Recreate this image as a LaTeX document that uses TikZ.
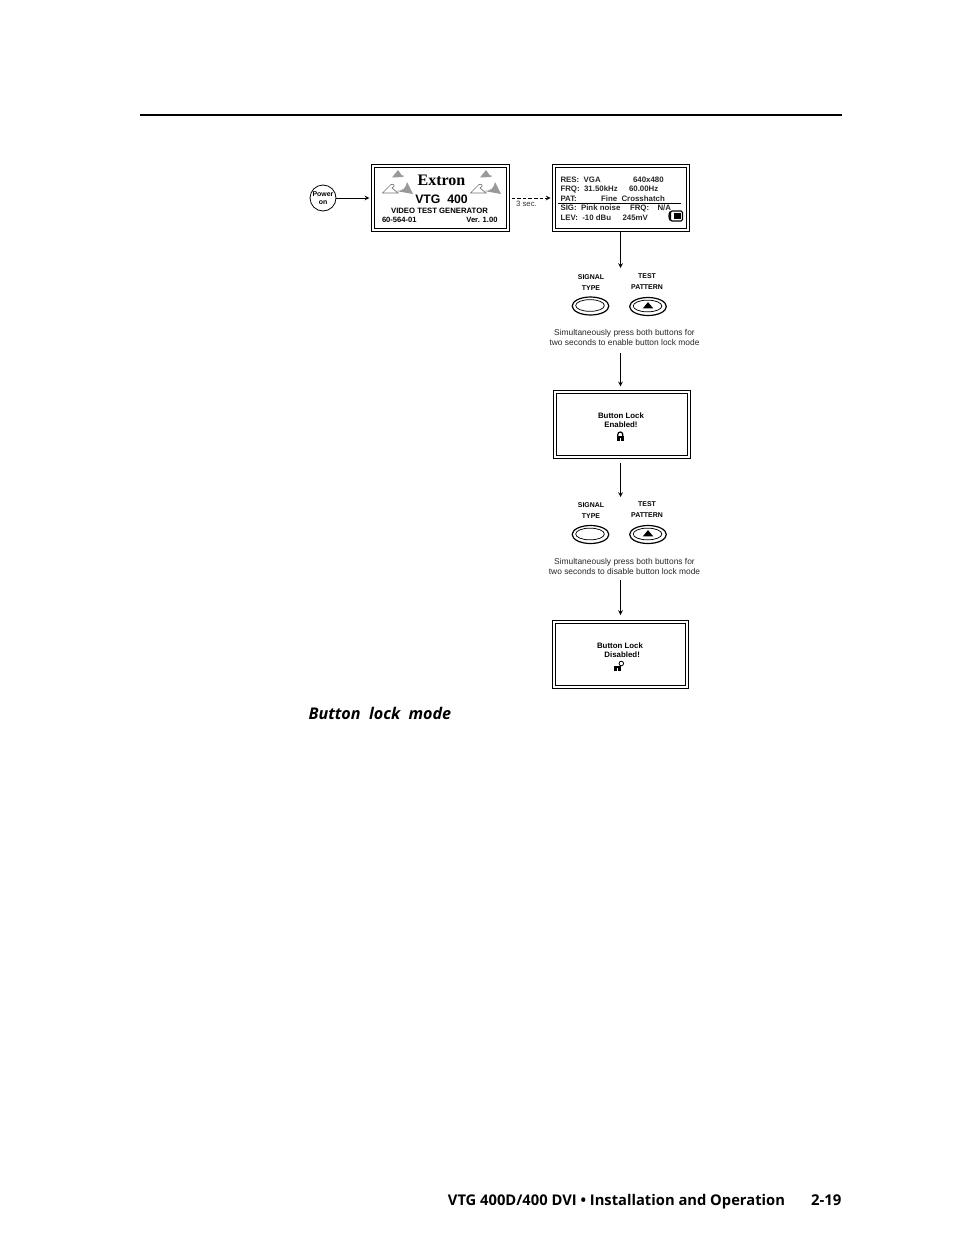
\documentclass[tikz,border=0pt]{standalone}
\usepackage{fontspec}
\setmainfont{Liberation Sans}
\newfontfamily\pagefont{Open Sans}
\newfontfamily\logofont{Liberation Serif}
\usetikzlibrary{shapes.geometric}
\tikzset{every picture/.style={line width=0.75pt}}
\tikzset{
	framebox/.style={draw,line width=0.7pt,minimum width=103pt,minimum height=50.5pt,inner sep=0pt},
	frameinner/.style={draw,line width=0.6pt,minimum width=98.5pt,minimum height=46pt,inner sep=0pt},
	btnouter/.style={draw,ellipse,line width=0.9pt,minimum width=27.5pt,minimum height=13.5pt,inner sep=0pt},
	btninner/.style={draw,ellipse,line width=0.55pt,minimum width=21.5pt,minimum height=8.8pt,inner sep=0pt},
	btnlabel/.style={font=\fontsize{5.2}{8.2}\selectfont\bfseries,align=center,inner sep=0pt},
	btnarrow/.style={fill,isosceles triangle,isosceles triangle apex angle=80,shape border rotate=90,minimum height=4.5pt,minimum width=8pt,inner sep=0pt},
	hinttext/.style={font=\fontsize{6.3}{8.2}\selectfont,align=center,inner sep=0pt,text=black!85},
	statustext/.style={font=\fontsize{5.9}{6}\selectfont\bfseries,anchor=base west,inner sep=0pt,text=black!85},
	splashtext/.style={font=\fontsize{5.7}{6}\selectfont\bfseries,inner sep=0pt},
	locktext/.style={font=\fontsize{5.9}{7}\selectfont\bfseries,align=center,inner sep=0pt},
	flowarrow/.style={-stealth,line width=0.6pt},
	logogray/.style={fill=black!40,draw=none},
	logoline/.style={draw=black!55,line width=0.5pt},
}
\begin{document}
\begin{tikzpicture}[x=0.75pt,y=0.75pt,yscale=-1,xscale=1]
		\useasboundingbox (0,0) rectangle (954,1235);
		
		%Page rule
		\draw [line width=1.5pt] (140,115) -- (842,115) ;
		
		%Power on
		\node (power) [draw,circle,line width=0.6pt,minimum size=19.5pt,inner sep=0pt,font=\fontsize{5.2}{5.8}\selectfont\bfseries,align=center] at (323,198) {Power\\on};
		
		%Start screen
		\node (splash) [framebox] at (440.5,198) {};
		\node [frameinner] at (splash) {};
		\node (extron) [font=\logofont\fontsize{12}{12}\selectfont\bfseries,inner sep=0pt] at (441.5,180.5) {Extron};
		\node (model) [font=\fontsize{9.2}{10}\selectfont\bfseries,inner sep=0pt] at (441.5,199) {VTG\ \ 400};
		\node (generator) [splashtext,font=\fontsize{5.8}{6}\selectfont\bfseries] at (439.5,211) {VIDEO TEST GENERATOR};
		\node (partno) [splashtext,anchor=west] at (381.5,219.5) {60-564-01};
		\node (version) [splashtext,anchor=east] at (498,219.5) {Ver. 1.00};
		
		%Logo left
		\fill [logogray] (398,170) -- (403,177) -- (392,177.5) -- cycle;
		\fill [logogray] (403,176) circle [radius=0.8];
		\fill [logogray] (407,182) -- (413,194) -- (396,191) .. controls (403,191) and (406,188) .. cycle;
		\draw [logoline] (382.5,193) -- (391,184.5) .. controls (394,183.5) and (396,186) .. (392,188) -- (398,193) -- cycle;
		%Logo right
		\fill [logogray] (486,170) -- (491,177) -- (480,177.5) -- cycle;
		\fill [logogray] (491,176) circle [radius=0.8];
		\fill [logogray] (495,182) -- (501,194) -- (484,191) .. controls (491,191) and (494,188) .. cycle;
		\draw [logoline] (470.5,193) -- (479,184.5) .. controls (482,183.5) and (484,186) .. (480,188) -- (486,193) -- cycle;
		
		%Status screen
		\node (status) [framebox] at (621,198) {};
		\node [frameinner] at (status) {};
		\node (res) [statustext] at (560,182) {RES:\ \ VGA};
		\node (resval) [statustext] at (632.5,182) {640x480};
		\node (frq) [statustext] at (560,191.3) {FRQ:\ \ 31.50kHz};
		\node (frqval) [statustext] at (628.5,191.3) {60.00Hz};
		\node (pat) [statustext] at (560,201) {PAT:};
		\node (patval) [statustext] at (600.5,201) {Fine\ \ Crosshatch};
		\node (sig) [statustext] at (560,210) {SIG:\ \ Pink noise};
		\node (sigfrq) [statustext] at (629.5,210) {FRQ:};
		\node (na) [statustext] at (657,210) {N/A};
		\node (lev) [statustext] at (560,220) {LEV:\ \ -10 dBu};
		\node (levval) [statustext] at (622,220) {245mV};
		\draw [line width=0.6pt] (558,203) -- (681,203) ;
		
		%Battery
		\draw [line width=0.8pt,rounded corners=1pt,fill=white] (670.5,211) rectangle (682.5,221);
		\fill (674,213) rectangle (681,219);
		\draw [line width=1pt] (670.5,211.5) .. controls (668.5,213.5) and (668.5,218.5) .. (670.5,220.5);
		
		%Buttons, first pair
		\node (signalone) [btnouter] at (590.5,306) {};
		\node [btninner] at (590,305.5) {};
		\node (testone) [btnouter] at (648,306.5) {};
		\node [btninner] at (647.5,306) {};
		\node [btnarrow] at (648,306) {};
		\node (signallabelone) [btnlabel] at (591,282.5) {SIGNAL\\TYPE};
		\node (testlabelone) [btnlabel] at (647,281.5) {TEST\\PATTERN};
		\node (hintone) [hinttext] at (624.5,337.5) {Simultaneously press both buttons for\\two seconds to enable button lock mode};
		
		%Lock enabled
		\node (enabled) [framebox] at (622,424.5) {};
		\node [frameinner] at (enabled) {};
		\node (enabledtext) [locktext] at (621,420) {Button Lock\\Enabled!};
		\draw [line width=0.9pt] (617.8,436) -- (617.8,434.5) arc[start angle=180,end angle=360,x radius=2.5,y radius=2.5] -- (622.8,436);
		\fill (616.5,435.5) rectangle (624,441) ;
		\fill [white] (619.7,437.5) rectangle (620.8,441) ;
		
		%Buttons, second pair
		\node (signaltwo) [btnouter] at (590.5,534.5) {};
		\node [btninner] at (590,534) {};
		\node (testtwo) [btnouter] at (648,534.5) {};
		\node [btninner] at (647.5,534) {};
		\node [btnarrow] at (648,534) {};
		\node (signallabeltwo) [btnlabel] at (591,510.5) {SIGNAL\\TYPE};
		\node (testlabeltwo) [btnlabel] at (647,509.5) {TEST\\PATTERN};
		\node (hinttwo) [hinttext] at (624.5,566.5) {Simultaneously press both buttons for\\two seconds to disable button lock mode};
		
		%Lock disabled
		\node (disabled) [framebox,minimum width=102.5pt] at (620.5,654.5) {};
		\node [frameinner,minimum width=98pt] at (disabled) {};
		\node (disabledtext) [locktext] at (620,650.5) {Button Lock\\\ \ Disabled!};
		\fill (614,665.5) rectangle (620.5,671) ;
		\fill [white] (616.6,667.5) rectangle (617.8,671) ;
		\draw [line width=0.6pt] (621.3,663.5) circle [radius=2.3];
		\draw [line width=1pt] (619.6,665.5) -- (619.6,667);
		
		%Free ends of the arrows
		\coordinate (arrowa) at (620.5,268);
		\coordinate (arrowb) at (620.5,353);
		\coordinate (arrowc) at (620.5,497);
		\coordinate (arrowd) at (620.5,580);
		
		%Arrows
		\draw [flowarrow,shorten >=1.5pt] (power) -- (splash);
		\draw [flowarrow,dashed,dash pattern=on 2.6pt off 1.6pt,shorten <=1.5pt,shorten >=1pt] (splash) -- (status);
		\node (delay) [font=\fontsize{5.8}{6}\selectfont,text=black!80,inner sep=0pt] at (526.5,203.5) {3 sec.};
		\draw [flowarrow] (status.south -| arrowa) -- (arrowa);
		\draw [flowarrow,shorten >=3pt] (arrowb) -- (enabled.north -| arrowb);
		\draw [flowarrow,shorten <=3pt] (enabled.south -| arrowc) -- (arrowc);
		\draw [flowarrow,shorten >=4pt] (arrowd) -- (disabled.north -| arrowd);
		
		% Text Node
		\node (caption) [font=\pagefont\fontsize{12.1}{13}\selectfont\bfseries\itshape,anchor=west,inner sep=0pt] at (308,713.5) {Button\ \ lock\ \ mode};
		% Text Node
		\node (footer) [font=\pagefont\fontsize{11.05}{13}\selectfont\bfseries,anchor=base east,inner sep=0pt] at (785.5,1205.5) {VTG 400D/400 DVI • Installation and Operation};
		% Text Node
		\node (pageno) [font=\pagefont\fontsize{11.2}{13}\selectfont\bfseries,anchor=base east,inner sep=0pt] at (842,1205.5) {2-19};
		
		\end{tikzpicture}
\end{document}
